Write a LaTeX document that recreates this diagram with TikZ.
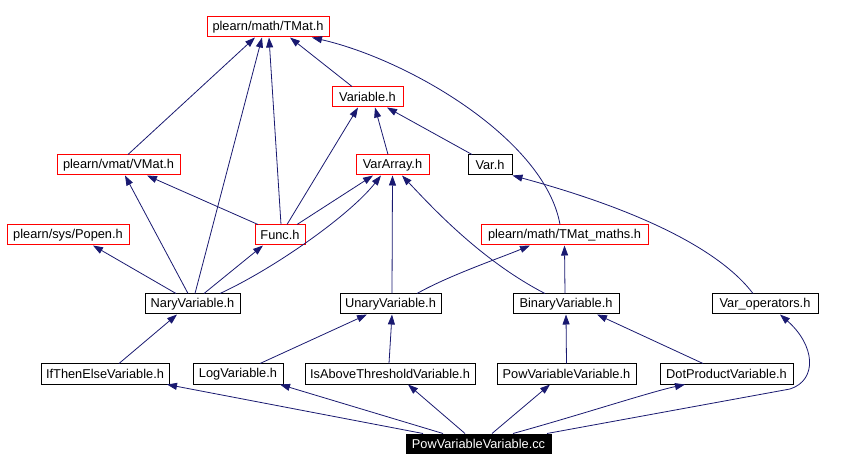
\documentclass[tikz,border=0pt]{standalone}
\usepackage{fontspec}
\setmainfont{Liberation Sans}
\usetikzlibrary{arrows.meta}
\definecolor{edgeblue}{HTML}{191970}

\begin{document}
\begin{tikzpicture}[x=1pt,y=-1pt,>={Triangle[length=10pt,width=7pt]},
file/.style={draw=black,line width=1pt,inner sep=0pt,minimum height=20pt,font=\fontsize{12.8}{15}\selectfont},
undoc/.style={file,draw=red},
rootfile/.style={file,fill=black,text=white,minimum height=19pt},
dep/.style={->,line width=0.8pt,draw=edgeblue}]
\useasboundingbox (0,0) rectangle (849,470);
\node[undoc,minimum width=122pt] (tmat) at (268,27) {plearn/math/TMat.h};
\node[undoc,minimum width=71pt] (variable) at (367.5,97) {Variable.h};
\node[undoc,minimum width=123pt] (vmat) at (118.5,165) {plearn/vmat/VMat.h};
\node[undoc,minimum width=73pt] (vararray) at (392.5,165) {VarArray.h};
\node[file,minimum width=44pt] (varh) at (490,165) {Var.h};
\node[undoc,minimum width=122pt] (popen) at (68,235) {plearn/sys/Popen.h};
\node[undoc,minimum width=50pt] (func) at (280,235) {Func.h};
\node[undoc,minimum width=167pt] (tmatmaths) at (564.5,235) {plearn/math/TMat\_maths.h};
\node[file,minimum width=95pt] (nary) at (192.5,304) {NaryVariable.h};
\node[file,minimum width=101pt] (unary) at (390.5,304) {UnaryVariable.h};
\node[file,minimum width=106pt] (binary) at (566,304) {BinaryVariable.h};
\node[file,minimum width=106pt] (varops) at (765,304) {Var\_operators.h};
\node[file,minimum width=128pt] (ifthen) at (105,374) {IfThenElseVariable.h};
\node[file,minimum width=90pt] (logvar) at (238,374) {LogVariable.h};
\node[file,minimum width=170pt] (isabove) at (390,374) {IsAboveThresholdVariable.h};
\node[file,minimum width=139pt] (powvvh) at (566.5,374) {PowVariableVariable.h};
\node[file,minimum width=133pt] (dotprod) at (726.5,374) {DotProductVariable.h};
\node[rootfile,minimum width=145pt] (root) at (478.5,443.5) {PowVariableVariable.cc};
% includes of TMat.h
\draw[dep] ([xshift=9.5pt]vmat.north) -- ([xshift=-13pt]tmat.south);
\draw[dep] ([xshift=2.5pt]nary.north) -- ([xshift=-6pt]tmat.south);
\draw[dep] ([xshift=1pt]func.north) -- ([xshift=1pt]tmat.south);
\draw[dep] ([xshift=-15.5pt]variable.north) -- ([xshift=22pt]tmat.south);
\draw[dep] ([xshift=-4.5pt]tmatmaths.north) .. controls (545,140) and (410,60) .. ([xshift=44pt]tmat.south);
% Variable.h, VMat.h, VarArray.h
\draw[dep] ([xshift=7pt]func.north) -- ([xshift=-9.5pt]variable.south);
\draw[dep] ([xshift=-4.5pt]vararray.north) -- ([xshift=7.5pt]variable.south);
\draw[dep] ([xshift=-18pt]varh.north) -- ([xshift=19.5pt]variable.south);
\draw[dep] ([xshift=-22pt]func.north) -- ([xshift=28.5pt]vmat.south);
\draw[dep] ([xshift=-4.5pt]nary.north) -- ([xshift=6.5pt]vmat.south);
\draw[dep] ([xshift=17pt]func.north) -- ([xshift=-19.5pt]vararray.south);
\draw[dep] ([xshift=27.5pt]nary.north) .. controls (275,268) and (350,215) .. ([xshift=-11.5pt]vararray.south);
\draw[dep] ([xshift=1.5pt]unary.north) -- (vararray.south);
\draw[dep] ([xshift=-21pt]binary.north) .. controls (480,260) and (430,205) .. ([xshift=9.5pt]vararray.south);
% middle row
\draw[dep] ([xshift=-16.5pt]nary.north) -- ([xshift=25pt]popen.south);
\draw[dep] ([xshift=11.5pt]nary.north) -- ([xshift=-17pt]func.south);
\draw[dep] ([xshift=26.5pt]unary.north) .. controls (450,275) and (500,258) .. ([xshift=-34.5pt]tmatmaths.south);
\draw[dep] ([xshift=-1pt]binary.north) -- (tmatmaths.south);
\draw[dep] ([xshift=-12pt]varops.north) .. controls (720,250) and (640,210) .. (varh.south east);
% variable classes
\draw[dep] ([xshift=14pt]ifthen.north) -- ([xshift=-15.5pt]nary.south);
\draw[dep] ([xshift=22pt]logvar.north) -- ([xshift=-23.5pt]unary.south);
\draw[dep] ([xshift=-1pt]isabove.north) -- ([xshift=1.5pt]unary.south);
\draw[dep] (powvvh.north) -- (binary.south);
\draw[dep] ([xshift=-23.5pt]dotprod.north) -- ([xshift=31pt]binary.south);
% the .cc file
\draw[dep] ([xshift=-55.5pt]root.north) -- ([xshift=62pt]ifthen.south);
\draw[dep] ([xshift=-35.5pt]root.north) -- ([xshift=42pt]logvar.south);
\draw[dep] ([xshift=-13.5pt]root.north) -- ([xshift=18pt]isabove.south);
\draw[dep] ([xshift=13.5pt]root.north) -- ([xshift=-16.5pt]powvvh.south);
\draw[dep] ([xshift=34.5pt]root.north) .. controls (580,415) and (650,392) .. ([xshift=-41.5pt]dotprod.south);
\draw[dep] ([xshift=68.5pt]root.north) -- (790,389) .. controls (818,380) and (815,345) .. ([xshift=15pt]varops.south);
\end{tikzpicture}
\end{document}
